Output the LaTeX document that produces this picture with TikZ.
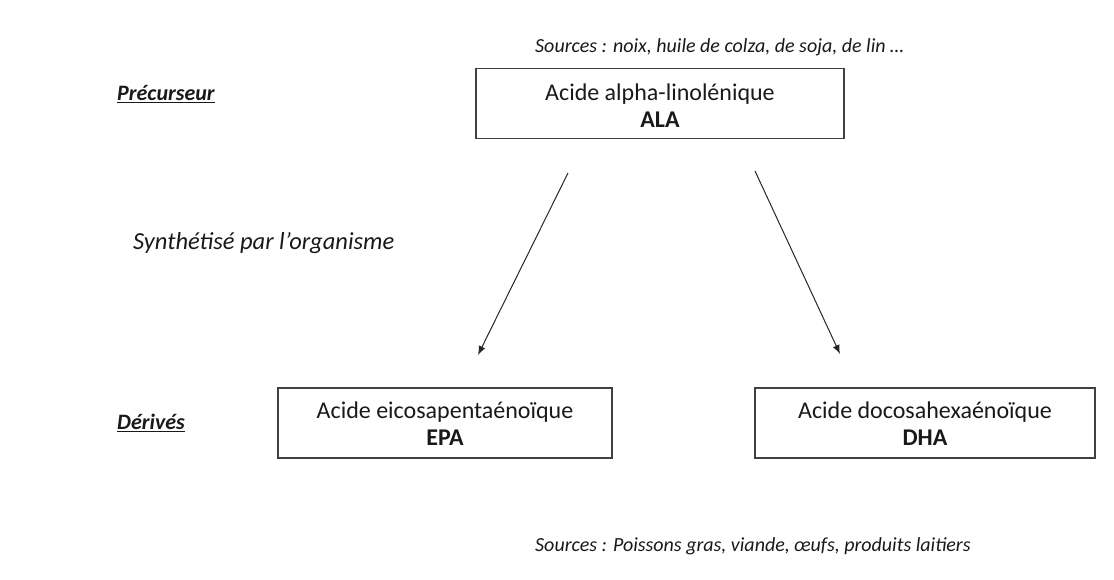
\documentclass[tikz,border=0pt]{standalone}
\usepackage{fontspec}
\setmainfont{Carlito}
\usetikzlibrary{arrows.meta}
\begin{document}
\begin{tikzpicture}[x=1pt,y=-1pt,
  every node/.style={font=\fontsize{24}{28}\selectfont, text=black!90, inner sep=0pt},
  acidbox/.style={draw=black!75, line width=1.2pt, minimum height=70pt, inner sep=0pt, align=center},
  boldtxt/.style={font=\fontsize{24}{28}\selectfont\bfseries},
  lbl/.style={anchor=west, font=\fontsize{24.5}{28}\selectfont\itshape},
  src/.style={anchor=west, font=\fontsize{20}{24}\selectfont\itshape},
  head/.style={anchor=west, font=\fontsize{22}{26}\selectfont\bfseries\itshape},
  conn/.style={draw=black!85, line width=1pt, -{Latex[length=9pt,width=7pt]}}]
\useasboundingbox (0,0) rectangle (1114,579);
\node[src] (srctop) at (535,47) {Sources : noix, huile de colza, de soja, de lin …};
\node[head] (prec) at (117,94) {\underline{Précurseur}};
\node[acidbox, minimum width=368pt] (ala) at (660,103.5) {};
\node (alat) at (660,94) {Acide alpha-linolénique};
\node[boldtxt] (alab) at (660,120) {ALA};
\node[lbl] (synth) at (133,243) {Synthétisé par l’organisme};
\coordinate (a1s) at (568,173);
\coordinate (a1e) at (478,355);
\coordinate (a2s) at (755,171);
\coordinate (a2e) at (840,354);
\draw[conn] (a1s) -- (a1e);
\draw[conn] (a2s) -- (a2e);
\node[head] (der) at (117,423) {\underline{Dérivés}};
\node[acidbox, minimum width=334pt] (epa) at (445,423) {};
\node (epat) at (445,412) {Acide eicosapentaénoïque};
\node[boldtxt] (epab) at (445,438) {EPA};
\node[acidbox, minimum width=340pt] (dha) at (925,423) {};
\node (dhat) at (925,412) {Acide docosahexaénoïque};
\node[boldtxt] (dhab) at (925,438) {DHA};
\node[src] (srcbot) at (535,546) {Sources : Poissons gras, viande, œufs, produits laitiers};
\end{tikzpicture}
\end{document}
